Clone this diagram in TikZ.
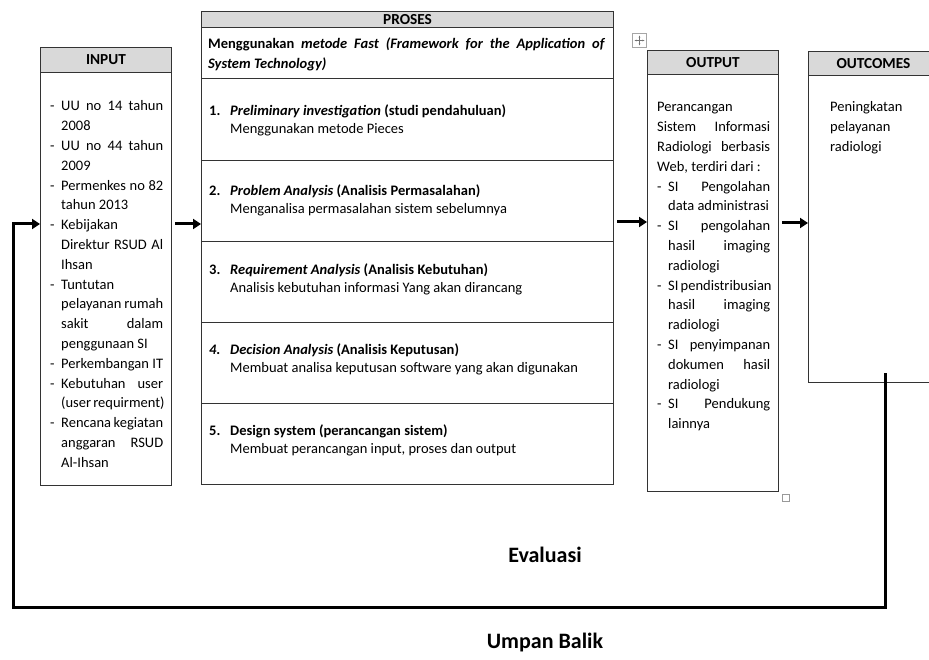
\documentclass[tikz,border=0pt]{standalone}
\usepackage{fontspec}
\setmainfont{Carlito}
\usetikzlibrary{arrows.meta}

% justified line of a given width, list dash and hanging indent
\newcommand\J[2][102pt]{\makebox[#1][s]{#2}}
\newcommand\D{\makebox[11pt][l]{-}}
\newcommand\I{\hspace*{11pt}}
\newcommand\bodyfont{\fontsize{14.5}{19.8}\selectfont}
\newcommand\procfont{\fontsize{14.5}{18}\selectfont}
\newcommand\num[1]{\makebox[21pt][l]{#1}}

\begin{document}
\begin{tikzpicture}[x=1pt,y=-1pt,
  frame/.style={draw=black!80, line width=1pt, anchor=north west, inner sep=0},
  headbox/.style={frame, fill=black!15, font=\fontsize{15.3}{18}\selectfont\bfseries},
  txt/.style={anchor=base west, inner sep=0},
  flow/.style={line width=3pt, -{Triangle[length=8pt,width=10pt]}},
  bigtext/.style={font=\fontsize{22}{26}\selectfont\bfseries, inner sep=0}]
\useasboundingbox (0,0) rectangle (929,660);

% ---------- INPUT ----------
\node[frame, minimum width=131pt, minimum height=438pt] (input) at (40,47) {};
\node[headbox, minimum width=131pt, minimum height=25pt] (inputhead) at (40,47) {INPUT};
\node[txt] (inputtext) at (50,111) {\parbox[t]{113pt}{\bodyfont
\D\J{UU no 14 tahun}\\
\I 2008\\
\D\J{UU no 44 tahun}\\
\I 2009\\
\D\J{Permenkes no 82}\\
\I tahun 2013\\
\D Kebijakan\\
\I\J{Direktur RSUD Al}\\
\I Ihsan\\
\D Tuntutan\\
\I\J{pelayanan rumah}\\
\I\J{sakit dalam}\\
\I penggunaan SI\\
\D\J{Perkembangan IT}\\
\D\J{Kebutuhan user}\\
\I\J{(user requirment)}\\
\D\J{Rencana kegiatan}\\
\I\J{anggaran RSUD}\\
\I Al-Ihsan}};

% ---------- PROSES ----------
\node[frame, minimum width=412pt, minimum height=473pt] (proses) at (201,11) {};
\node[headbox, minimum width=412pt, minimum height=16pt] (proseshead) at (201,11) {PROSES};
\node[frame, minimum width=412pt, minimum height=51pt] (intro) at (201,27) {};
\node[frame, minimum width=412pt, minimum height=82pt] (row1) at (201,78) {};
\node[frame, minimum width=412pt, minimum height=81pt] (row2) at (201,160) {};
\node[frame, minimum width=412pt, minimum height=81pt] (row3) at (201,241) {};
\node[frame, minimum width=412pt, minimum height=81pt] (row4) at (201,322) {};
\node[frame, minimum width=412pt, minimum height=81pt] (row5) at (201,403) {};

\node[txt] (introtext) at (208,49) {\parbox[t]{397pt}{\fontsize{14.5}{19.5}\selectfont\bfseries
\J[397pt]{Menggunakan \textit{metode Fast (Framework for the Application of}}\\
\textit{System Technology)}}};
\node[txt] (step1) at (209,116) {\parbox[t]{390pt}{\procfont
\num{\textbf{1.}}\textbf{\textit{Preliminary investigation} (studi pendahuluan)}\\
\hspace*{21pt}Menggunakan metode Pieces}};
\node[txt] (step2) at (209,196) {\parbox[t]{390pt}{\procfont
\num{\textbf{2.}}\textbf{\textit{Problem Analysis} (Analisis Permasalahan)}\\
\hspace*{21pt}Menganalisa permasalahan sistem sebelumnya}};
\node[txt] (step3) at (209,275) {\parbox[t]{390pt}{\procfont
\num{\textbf{3.}}\textbf{\textit{Requirement Analysis} (Analisis Kebutuhan)}\\
\hspace*{21pt}Analisis kebutuhan informasi Yang akan dirancang}};
\node[txt] (step4) at (209,354) {\parbox[t]{390pt}{\procfont
\num{\textbf{\textit{4.}}}\textbf{\textit{Decision Analysis} (Analisis Keputusan)}\\
\hspace*{21pt}Membuat analisa keputusan software yang akan digunakan}};
\node[txt] (step5) at (209,435) {\parbox[t]{390pt}{\procfont
\num{\textbf{5.}}\textbf{Design system (perancangan sistem)}\\
\hspace*{21pt}Membuat perancangan input, proses dan output}};

% ---------- OUTPUT ----------
\node[frame, minimum width=131pt, minimum height=441pt] (output) at (647,50) {};
\node[headbox, minimum width=131pt, minimum height=24pt] (outputhead) at (647,50) {OUTPUT};
\node[txt] (outputtext) at (657,112) {\parbox[t]{113pt}{\bodyfont
Perancangan\\
\J[113pt]{Sistem Informasi}\\
\J[113pt]{Radiologi berbasis}\\
Web, terdiri dari :\\
\D\J{SI Pengolahan}\\
\I data administrasi\\
\D\J{SI pengolahan}\\
\I\J{hasil imaging}\\
\I radiologi\\
\D\J{SI pendistribusian}\\
\I\J{hasil imaging}\\
\I radiologi\\
\D\J{SI penyimpanan}\\
\I\J{dokumen hasil}\\
\I radiologi\\
\D\J{SI Pendukung}\\
\I lainnya}};

% table handles of the editor
\node[draw=black!35, fill=white, line width=0.6pt, minimum size=14pt, inner sep=0] (movehandle) at (639.5,40.5) {};
\draw[black!55, line width=0.6pt, {Stealth[length=2pt]}-{Stealth[length=2pt]}]
  ([xshift=-5pt]movehandle.center) -- ([xshift=5pt]movehandle.center);
\draw[black!55, line width=0.6pt, {Stealth[length=2pt]}-{Stealth[length=2pt]}]
  ([yshift=-5pt]movehandle.center) -- ([yshift=5pt]movehandle.center);
\node[draw=black!40, fill=white, line width=0.6pt, minimum size=7pt, inner sep=0, anchor=north west] (sizehandle) at (782,494) {};

% ---------- OUTCOMES ----------
\node[frame, minimum width=140pt, minimum height=331pt] (outcomes) at (808,51) {};
\node[headbox, minimum width=140pt, minimum height=24pt] (outcomeshead) at (808,51) {\hspace*{-10pt}OUTCOMES};
\node[txt] (outcomestext) at (830,112) {\parbox[t]{90pt}{\bodyfont
Peningkatan\\
pelayanan\\
radiologi}};

% ---------- connectors ----------
\draw[flow] ([xshift=3pt]input.east |- 0,224) -- (proses.west |- 0,224);
\draw[flow] ([xshift=3pt]proses.east |- 0,222) -- (output.west |- 0,222);
\draw[flow] ([xshift=3pt]output.east |- 0,223) -- (outcomes.west |- 0,223);

% feedback loop
\coordinate (loopstart) at ([yshift=10pt]outcomes.south -| 885,0);
\draw[flow, line join=miter] (loopstart) |- (13,607) |- (input.west |- 0,224);

\node[bigtext] (evaluasi) at (545,555) {Evaluasi};
\node[bigtext] (umpanbalik) at (545,643) {Umpan Balik};
\end{tikzpicture}
\end{document}
